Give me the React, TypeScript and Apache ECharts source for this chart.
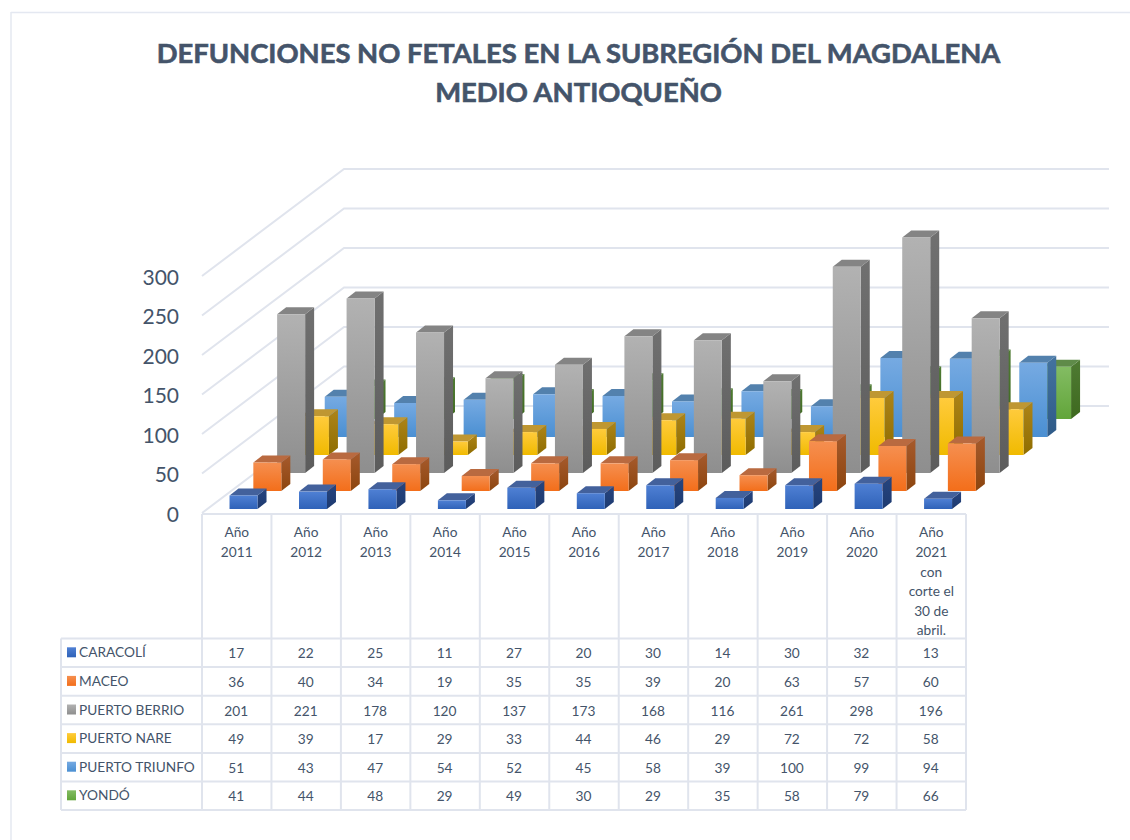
import React, { useEffect, useRef } from "react";
import * as echarts from "echarts";

const categories = ["Año\n2011","Año\n2012","Año\n2013","Año\n2014","Año\n2015","Año\n2016","Año\n2017","Año\n2018","Año\n2019","Año\n2020","Año\n2021\ncon\ncorte el\n30 de\nabril."];
const seriesNames = ["CARACOLÍ","MACEO","PUERTO BERRIO","PUERTO NARE","PUERTO TRIUNFO","YONDÓ"];
const caracoli = [17,22,25,11,27,20,30,14,30,32,13];
const maceo = [36,40,34,19,35,35,39,20,63,57,60];
const puertoBerrio = [201,221,178,120,137,173,168,116,261,298,196];
const puertoNare = [49,39,17,29,33,44,46,29,72,72,58];
const puertoTriunfo = [51,43,47,54,52,45,58,39,100,99,94];
const yondo = [41,44,48,29,49,30,29,35,58,79,66];
const allValues = [caracoli, maceo, puertoBerrio, puertoNare, puertoTriunfo, yondo];
const yTicks = [0,50,100,150,200,250,300];

const INK = "#44546a";
const LINE = "#e0e4ed";
const FONT = "Lato, Carlito, sans-serif";

// front-top, front-bottom, top face, side-top, side-bottom, key colour
const palette = [
  ["#4f80d4","#2f62b8","#43619c","#27457f","#1d3a70","#3f6cc0"],
  ["#f58f50","#f36e1a","#b96a40","#a65a2c","#8c450f","#ee7a30"],
  ["#b2b2b2","#8e8e8e","#848484","#707070","#5c5c5c","#a0a0a0"],
  ["#ffcb3c","#f0ba00","#bf9732","#ad8418","#8f6d00","#fcc00c"],
  ["#76aae2","#4a8fd2","#5381ad","#44739f","#2e5a88","#5f9cdb"],
  ["#83bc63","#62a53a","#5f8b49","#4f7b33","#3e691f","#6ea845"],
];

const BAR_W = 28;
const SIDE_DX = 9;
const SIDE_DY = 7;
const STEP_X = 23.8;
const STEP_Y = 18;
const BASE_DX = 6.8;
const BASE_DY = 4;
const WALL_DX = 142;
const WALL_DY = 107;

const vGrad = (a: string, b: string) =>
  new echarts.graphic.LinearGradient(0, 0, 0, 1, [
    { offset: 0, color: a },
    { offset: 1, color: b },
  ]);

function barRenderer(depth: number) {
  const c = palette[depth];
  return (_p: any, api: any) => {
    const top = api.coord([api.value(0), api.value(1)]);
    const bottom = api.coord([api.value(0), 0]);
    const x0 = top[0] + BASE_DX + depth * STEP_X - BAR_W / 2;
    const x1 = x0 + BAR_W;
    const yb = bottom[1] - BASE_DY - depth * STEP_Y;
    const yt = yb - (bottom[1] - top[1]);
    return {
      type: "group",
      children: [
        {
          type: "polygon",
          shape: { points: [[x1, yt], [x1 + SIDE_DX, yt - SIDE_DY], [x1 + SIDE_DX, yb - SIDE_DY], [x1, yb]] },
          style: { fill: vGrad(c[3], c[4]) },
        },
        {
          type: "polygon",
          shape: { points: [[x0, yt], [x0 + SIDE_DX, yt - SIDE_DY], [x1 + SIDE_DX, yt - SIDE_DY], [x1, yt]] },
          style: { fill: c[2] },
        },
        {
          type: "rect",
          shape: { x: x0, y: yt, width: BAR_W, height: yb - yt },
          style: { fill: vGrad(c[0], c[1]) },
        },
      ],
    };
  };
}

function wallRenderer(params: any, api: any) {
  const cs = params.coordSys;
  const p = api.coord([0, api.value(1)]);
  const left = cs.x;
  return {
    type: "polyline",
    shape: {
      points: [
        [left, p[1]],
        [left + WALL_DX, p[1] - WALL_DY],
        [1109, p[1] - WALL_DY],
      ],
    },
    style: { fill: "none", stroke: LINE, lineWidth: 2 },
  };
}

const TABLE_LEFT = 202;
const TABLE_RIGHT = 966;
const COL_W = (TABLE_RIGHT - TABLE_LEFT) / 11;
const TABLE_TOP = 514;
const ROWS_TOP = 638.5;
const ROW_H = 28.6;
const LEGEND_LEFT = 61;
const TABLE_FONT = 13.7;

function tableGraphics() {
  const g: any[] = [];
  const ln = (x1: number, y1: number, x2: number, y2: number, w = 2, stroke = LINE) =>
    g.push({ type: "line", shape: { x1, y1, x2, y2 }, style: { stroke, lineWidth: w } });
  // outer frame of the picture
  ln(11, 12.5, 1130, 12.5, 1.5, "#e4e8f1");
  ln(11, 12, 11, 840, 1.5, "#e4e8f1");
  // columns
  for (let i = 0; i <= 11; i++) ln(TABLE_LEFT + i * COL_W, TABLE_TOP, TABLE_LEFT + i * COL_W, ROWS_TOP + 6 * ROW_H);
  ln(TABLE_LEFT, TABLE_TOP, TABLE_RIGHT, TABLE_TOP);
  ln(LEGEND_LEFT, ROWS_TOP, LEGEND_LEFT, ROWS_TOP + 6 * ROW_H);
  for (let r = 0; r <= 6; r++) ln(LEGEND_LEFT, ROWS_TOP + r * ROW_H, TABLE_RIGHT, ROWS_TOP + r * ROW_H);
  seriesNames.forEach((name, r) => {
    const cy = ROWS_TOP + (r + 0.5) * ROW_H;
    g.push({
      type: "rect",
      shape: { x: 67, y: cy - 5.5, width: 9, height: 10 },
      style: { fill: vGrad(palette[r][0], palette[r][1]) },
    });
    g.push({
      type: "text",
      x: 79,
      y: cy - 1,
      style: { text: name, fill: INK, font: `${TABLE_FONT}px ${FONT}`, textAlign: "left", textVerticalAlign: "middle" },
    });
    allValues[r].forEach((v, c) => {
      g.push({
        type: "text",
        x: TABLE_LEFT + (c + 0.5) * COL_W - 0.5,
        y: cy,
        style: { text: String(v), fill: INK, font: `${TABLE_FONT}px ${FONT}`, textAlign: "center", textVerticalAlign: "middle" },
      });
    });
  });
  return g;
}

export default function App() {
  const ref = useRef<HTMLDivElement>(null);
  useEffect(() => {
    const chart = echarts.init(ref.current!, undefined, { renderer: "svg" });
    const bars = seriesNames
      .map((name, d) => ({
        type: "custom",
        name,
        renderItem: barRenderer(d),
        clip: false,
        encode: { x: 0, y: 1 },
        data: allValues[d].map((v, i) => [i, v]),
      }))
      .reverse();
    chart.setOption({
      animation: false,
      backgroundColor: "#ffffff",
      title: {
        text: "DEFUNCIONES NO FETALES EN LA SUBREGIÓN DEL MAGDALENA\nMEDIO ANTIOQUEÑO",
        left: 573.5,
        top: 28,
        textAlign: "center",
        textStyle: {
          color: INK,
          fontFamily: FONT,
          fontWeight: "bold",
          fontSize: 27.4,
          lineHeight: 39,
          textBorderColor: INK,
          textBorderWidth: 0.6,
        },
      },
      grid: { left: TABLE_LEFT, right: 1130 - TABLE_RIGHT, top: 276, height: 237 },
      xAxis: {
        type: "category",
        data: categories,
        axisLine: { show: false },
        axisTick: { show: false },
        splitLine: { show: false },
        axisLabel: {
          interval: 0,
          margin: 9,
          color: INK,
          fontFamily: FONT,
          fontSize: TABLE_FONT,
          lineHeight: 19.6,
          align: "center",
          verticalAlign: "top",
        },
      },
      yAxis: {
        type: "value",
        min: 0,
        max: 300,
        interval: 50,
        axisLine: { show: false },
        axisTick: { show: false },
        splitLine: { show: false },
        axisLabel: { margin: 23, color: INK, fontFamily: FONT, fontSize: 21 },
      },
      graphic: tableGraphics(),
      series: [
        {
          type: "custom",
          name: "wall",
          renderItem: wallRenderer,
          clip: false,
          encode: { x: 0, y: 1 },
          data: yTicks.map((t) => [0, t]),
        },
        ...bars,
      ],
    });
    return () => chart.dispose();
  }, []);
  return <div ref={ref} style={{ position: "absolute", left: 0, top: 0, width: 1130, height: 840 }} />;
}
